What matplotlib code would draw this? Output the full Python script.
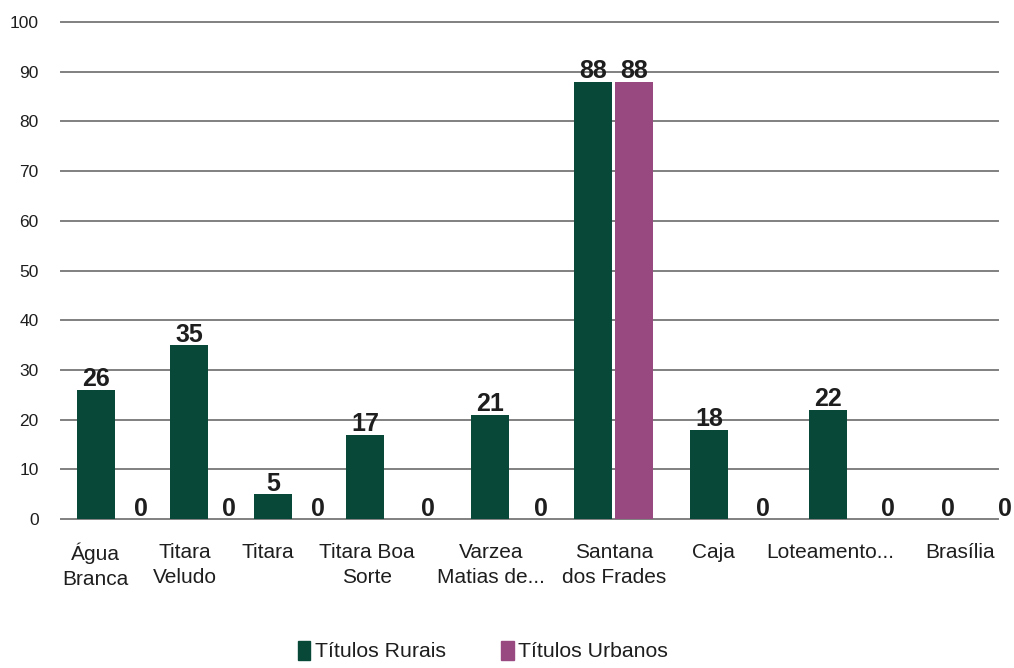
import matplotlib.pyplot as plt
from matplotlib.patches import Patch

plt.rcParams['font.family'] = ['Liberation Sans', 'DejaVu Sans']

# data
categories = ['Água\nBranca', 'Titara\nVeludo', 'Titara', 'Titara Boa\nSorte',
              'Varzea\nMatias de...', 'Santana\ndos Frades', 'Caja',
              'Loteamento...', 'Brasília']
rurais = [26, 35, 5, 17, 21, 88, 18, 22, 0]
urbanos = [0, 0, 0, 0, 0, 88, 0, 0, 0]
series_names = ['Títulos Rurais', 'Títulos Urbanos']

# layout (x in hundreds of pixels from the left of the plot area)
tick_x = [0.34, 1.24, 2.07, 3.06, 4.30, 5.53, 6.52, 7.69, 8.99]
rural_x = [0.35, 1.28, 2.12, 3.04, 4.29, 5.32, 6.48, 7.67, 8.87]
urban_x = [0.80, 1.68, 2.57, 3.67, 4.80, 5.73, 7.02, 8.27, 9.44]
bar_w = 0.38

green = '#084838'
purple = '#984a80'
grid_col = '#808080'
txt_col = '#1e1e1e'

fig = plt.figure(figsize=(10.14, 6.68), dpi=100)
ax = fig.add_axes([61 / 1014, 149 / 668, 937 / 1014, 497 / 668])

ax.set_xlim(0, 9.37)
ax.set_ylim(0, 100)
ax.set_yticks(range(0, 101, 10))
for y in range(0, 101, 10):
    ax.axhline(y, color=grid_col, lw=1.4, zorder=0, clip_on=False)

ax.bar(rural_x, rurais, width=bar_w, color=green, zorder=2)
ax.bar(urban_x, urbanos, width=bar_w, color=purple, zorder=2)

for xs, vals in ((rural_x, rurais), (urban_x, urbanos)):
    for x, v in zip(xs, vals):
        ax.annotate(str(v), (x, v), xytext=(0, 2.5), textcoords='offset points',
                    ha='center', va='baseline', fontsize=18, fontweight='bold',
                    color=txt_col, annotation_clip=False)

ax.set_xticks(tick_x)
ax.set_xticklabels(categories, fontsize=15, color=txt_col, linespacing=1.42)
ax.tick_params(axis='x', length=0, pad=17)
ax.tick_params(axis='y', length=0, pad=16, labelsize=12.5, labelcolor=txt_col)
for s in ax.spines.values():
    s.set_visible(False)

handles = [Patch(color=green), Patch(color=purple)]
fig.legend(handles, series_names, loc='lower left', bbox_to_anchor=(287 / 1014, -0.006),
           ncol=2, frameon=False, fontsize=15.3, handlelength=0.6, handleheight=1.0,
           handletextpad=0.2, columnspacing=2.6, borderpad=0, labelcolor=txt_col)

fig.savefig('out.png', dpi=100)
